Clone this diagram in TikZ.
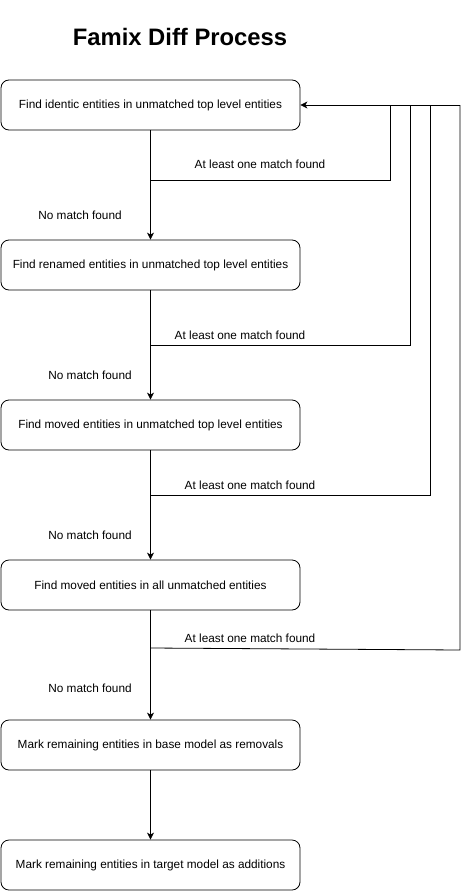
\documentclass[tikz,border=0pt]{standalone}
\usepackage{fontspec}
\setmainfont{Liberation Sans}
\usetikzlibrary{arrows.meta}
\begin{document}
\begin{tikzpicture}[x=1pt,y=-1pt,
  stepbox/.style={draw, line width=0.8pt, rounded corners=8pt, minimum width=299pt, minimum height=50pt, inner sep=0pt, font=\fontsize{11.8}{13}\selectfont},
  lbl/.style={font=\fontsize{11.8}{13}\selectfont, inner sep=0pt},
  flow/.style={draw, line width=0.8pt, -{Stealth[length=7pt,width=7pt,inset=2pt]}},
  back/.style={draw, line width=0.8pt}
]
\useasboundingbox (0,0) rectangle (469,891);
\node[font=\fontsize{23.8}{26}\selectfont\bfseries] (title) at (180,37) {Famix Diff Process};
\node[stepbox] (b1) at (150.5,105) {Find identic entities in unmatched top level entities};
\node[stepbox] (b2) at (150.5,265) {Find renamed entities in unmatched top level entities};
\node[stepbox] (b3) at (150.5,425) {Find moved entities in unmatched top level entities};
\node[stepbox] (b4) at (150.5,585) {Find moved entities in all unmatched entities};
\node[stepbox] (b5) at (150.5,745) {Mark remaining entities in base model as removals};
\node[stepbox] (b6) at (150.5,865) {Mark remaining entities in target model as additions};

\coordinate (c1) at (150.5,180);
\coordinate (c2) at (150.5,345);
\coordinate (c3) at (150.5,495);
\coordinate (c4) at (150.5,648);
\coordinate (r1) at (390,105);
\coordinate (r2) at (410,105);
\coordinate (r3) at (430,105);
\coordinate (r4) at (460,105);
\coordinate (e4) at (460,650);

\draw[flow] (b1.south) -- (b2.north);
\draw[flow] (b2.south) -- (b3.north);
\draw[flow] (b3.south) -- (b4.north);
\draw[flow] (b4.south) -- (b5.north);
\draw[flow] (b5.south) -- (b6.north);

\draw[back] (c1) -| (r1);
\draw[back] (c2) -| (r2);
\draw[back] (c3) -| (r3);
\draw[back] (c4) -- (e4) -- (r4);
\draw[flow] (r4) -- (b1.east);

\node[lbl] (a1) at (260,164) {At least one match found};
\node[lbl] (a2) at (240,335) {At least one match found};
\node[lbl] (a3) at (250,485) {At least one match found};
\node[lbl] (a4) at (250,638) {At least one match found};
\node[lbl] (n1) at (80,215) {No match found};
\node[lbl] (n2) at (90,375) {No match found};
\node[lbl] (n3) at (90,535) {No match found};
\node[lbl] (n4) at (90,688) {No match found};
\end{tikzpicture}
\end{document}
